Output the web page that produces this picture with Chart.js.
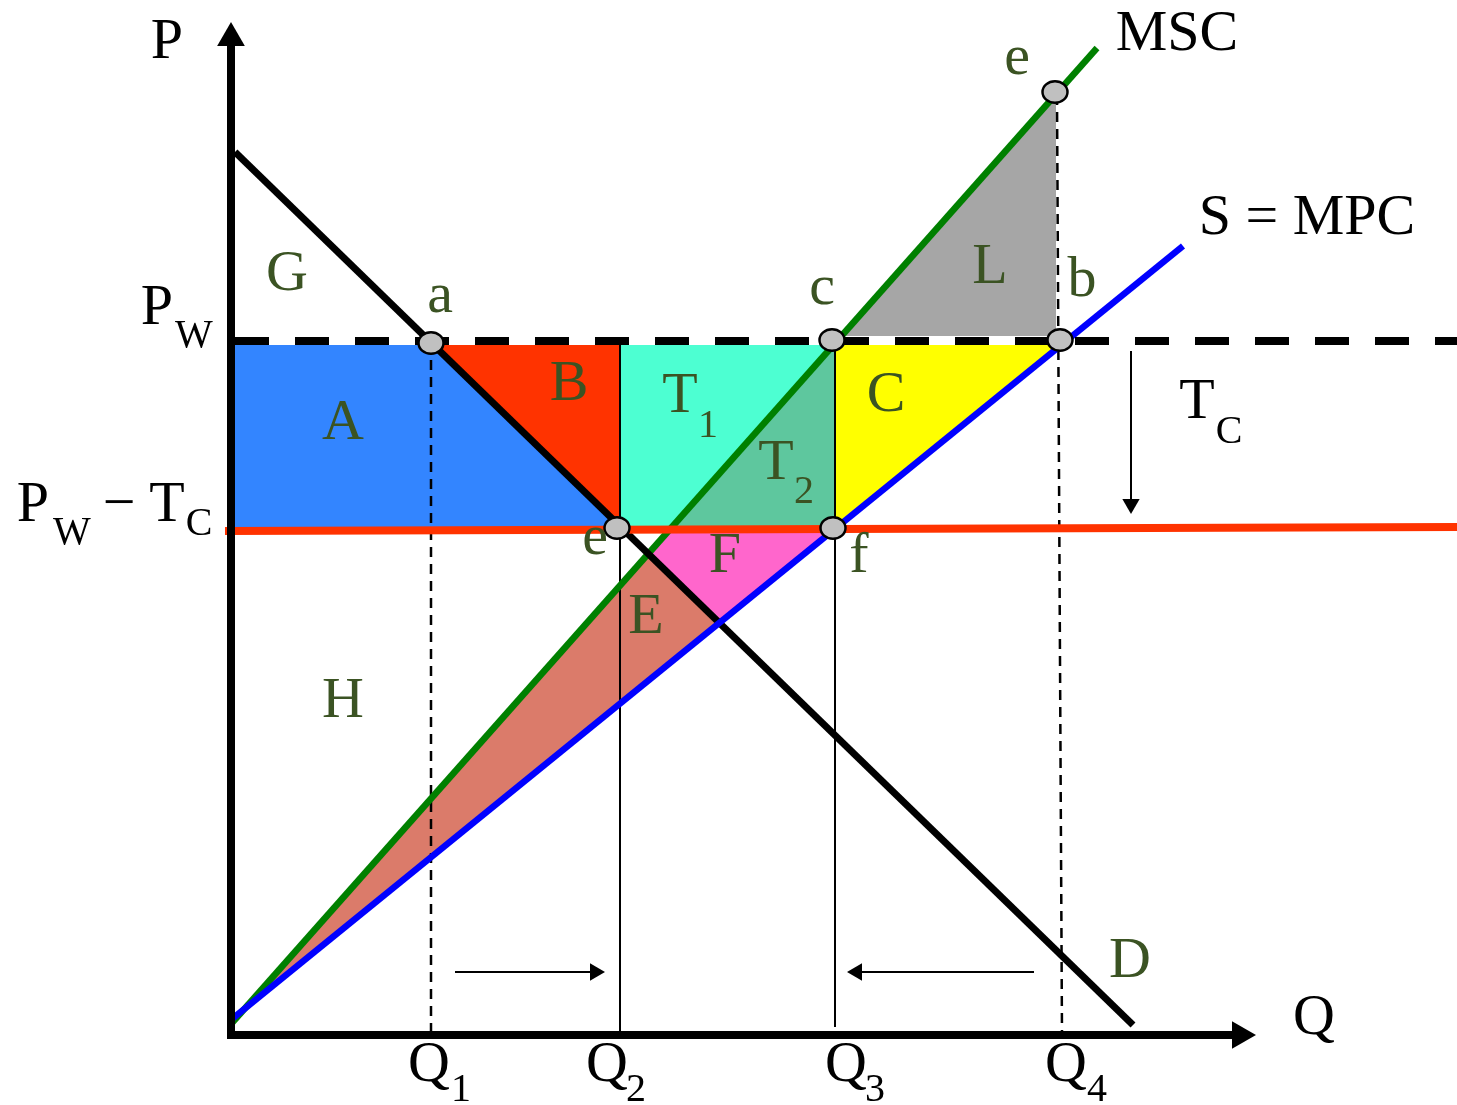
<!DOCTYPE html>
<html><head><meta charset="utf-8">
<script src="https://cdn.jsdelivr.net/npm/chart.js@4.4.1/dist/chart.umd.min.js"></script>
<style>
html,body{margin:0;padding:0;background:#fff;overflow:hidden;}
#wrap{position:relative;width:1457px;height:1105px;}
#wrap canvas{position:absolute;left:0;top:0;}
.lbl{position:absolute;font-family:"Liberation Serif","Times New Roman",serif;line-height:1;white-space:nowrap;transform:translateX(-50%);}
</style></head>
<body><div id="wrap"><canvas id="c" width="1457" height="1105"></canvas></div>
<script>
// ---------- data (quantity Q on x, price P on y) ----------
const demandCurve = [{x:0.4,y:88.3},{x:90.2,y:1.0}];
const mscCurve    = [{x:0.0,y:1.1},{x:86.6,y:98.7}];
const mpcCurve    = [{x:0.1,y:1.6},{x:95.2,y:78.9}];
const pwLine      = [{x:0.4,y:69.4},{x:122.6,y:69.4}];
const pwTcLine    = [{x:-0.6,y:50.4},{x:122.6,y:50.8}];
const q1Guide = [{x:20.0,y:69.2},{x:20.0,y:0.3}];
const q2Guide = [{x:38.9,y:69.0},{x:38.9,y:0.0}];
const q3Guide = [{x:60.4,y:69.0},{x:60.4,y:0.8}];
const q4Guide = [{x:82.6,y:94.0},{x:83.1,y:0.0}];
const yAxisLine = [{x:0.0,y:-0.4},{x:0.0,y:99.0}];
const xAxisLine = [{x:-0.4,y:0.0},{x:100.5,y:0.0}];
const arrowRight = [{x:22.4,y:6.3},{x:36.0,y:6.3}];
const arrowLeft  = [{x:80.3,y:6.3},{x:63.0,y:6.3}];
const arrowTc    = [{x:90.0,y:68.4},{x:90.0,y:53.5}];
const arrowHeads = [{x:0.0,y:99.7},{x:100.9,y:0.0},{x:36.4,y:6.3},{x:62.6,y:6.3},{x:90.0,y:53.1}];
const arrowHeadAngles = [0,90,90,270,180];
const markerPoints = [{x:20.0,y:69.2},{x:60.1,y:69.5},{x:82.9,y:69.5},{x:82.4,y:94.3},{x:38.6,y:50.7},{x:60.2,y:50.7}];
// shaded areas
const regionA = [{x:0.4,y:69.0},{x:20.3,y:69.0},{x:39.3,y:50.5}];  const regionABase = 50.5;
const regionB = [{x:20.3,y:69.0},{x:38.8,y:51.0}];                   const regionBBase = 69.0;
const regionT1 = [{x:38.9,y:69.0},{x:38.9,y:50.5},{x:43.8,y:50.5},{x:60.2,y:69.0}]; const regionT1Base = 69.0;
const regionT2 = [{x:43.8,y:50.5},{x:60.3,y:69.0},{x:60.3,y:50.5}];  const regionT2Base = 50.5;
const regionC = [{x:60.4,y:50.5},{x:83.0,y:69.0}];                   const regionCBase = 69.0;
const regionL = [{x:61.0,y:69.9},{x:82.5,y:94.2}];                   const regionLBase = 69.9;
const regionFUpper = [{x:41.7,y:48.1},{x:48.8,y:41.2},{x:60.3,y:50.5}];
const regionFLower = [{x:41.7,y:48.1},{x:43.8,y:50.5},{x:60.3,y:50.5}];
const regionEUpper = [{x:0.0,y:1.3},{x:41.7,y:48.1},{x:48.8,y:41.2}];
const regionELower = [{x:0.0,y:1.3},{x:48.8,y:41.2}];

// ---------- styles ----------
const GREEN_TXT = '#3B5323';
const labelLayout = [
  {t:'P',x:167,y:59,s:58,c:'#000'},
  {t:'Q',x:1314,y:1035,s:58,c:'#000'},
  {t:'P',x:157,y:325,s:58,c:'#000'},{t:'W',x:194,y:347,s:40,c:'#000'},
  {t:'P',x:33,y:522,s:58,c:'#000'},{t:'W',x:72,y:544,s:40,c:'#000'},
  {t:'\u2212',x:119,y:522,s:58,c:'#000'},
  {t:'T',x:167,y:522,s:58,c:'#000'},{t:'C',x:199,y:535,s:40,c:'#000'},
  {t:'T',x:1197,y:419,s:58,c:'#000'},{t:'C',x:1229,y:443,s:40,c:'#000'},
  {t:'MSC',x:1177,y:51,s:58,c:'#000'},
  {t:'S = MPC',x:1307,y:235,s:58,c:'#000'},
  {t:'Q',x:429,y:1082,s:58,c:'#000'},{t:'1',x:461,y:1101,s:40,c:'#000'},
  {t:'Q',x:607,y:1082,s:58,c:'#000'},{t:'2',x:636,y:1101,s:40,c:'#000'},
  {t:'Q',x:846,y:1082,s:58,c:'#000'},{t:'3',x:875,y:1101,s:40,c:'#000'},
  {t:'Q',x:1066,y:1082,s:58,c:'#000'},{t:'4',x:1097,y:1101,s:40,c:'#000'},
  {t:'G',x:287,y:291,s:58,c:GREEN_TXT},
  {t:'a',x:440,y:313,s:58,c:GREEN_TXT},
  {t:'A',x:343,y:440,s:58,c:GREEN_TXT},
  {t:'B',x:569,y:401,s:58,c:GREEN_TXT},
  {t:'T',x:680,y:413,s:58,c:GREEN_TXT},{t:'1',x:708,y:437,s:40,c:GREEN_TXT},
  {t:'c',x:822,y:305,s:58,c:GREEN_TXT},
  {t:'L',x:990,y:284,s:58,c:GREEN_TXT},
  {t:'b',x:1082,y:297,s:58,c:GREEN_TXT},
  {t:'e',x:1017,y:75,s:58,c:GREEN_TXT},
  {t:'C',x:886,y:412,s:58,c:GREEN_TXT},
  {t:'T',x:776,y:480,s:58,c:GREEN_TXT},{t:'2',x:804,y:503,s:40,c:GREEN_TXT},
  {t:'e',x:595,y:555,s:58,c:GREEN_TXT},
  {t:'F',x:725,y:573,s:58,c:GREEN_TXT},
  {t:'f',x:859,y:573,s:58,c:GREEN_TXT},
  {t:'E',x:646,y:634,s:58,c:GREEN_TXT},
  {t:'H',x:343,y:718,s:58,c:GREEN_TXT},
  {t:'D',x:1130,y:978,s:58,c:GREEN_TXT}
];

// ellipse marker image
const ellipse = document.createElement('canvas');
ellipse.width = 30; ellipse.height = 26;
const ec = ellipse.getContext('2d');
ec.beginPath(); ec.ellipse(15,13,12.5,10.8,0,0,Math.PI*2);
ec.fillStyle = '#C0C0C0'; ec.fill(); ec.lineWidth = 2.5; ec.strokeStyle = '#000'; ec.stroke();

const datasets = [];
function addLine(data, color, width, dash, order) {
  datasets.push({data, borderColor: color, borderWidth: width, borderDash: dash || [], pointRadius: 0,
    fill: false, order, tension: 0, showLine: true, borderCapStyle: 'butt'});
  return datasets.length - 1;
}
function addRegion(data, color, fill) {
  datasets.push({data, borderWidth: 0, borderColor: 'rgba(0,0,0,0)', backgroundColor: color, pointRadius: 0,
    fill, order: 20, tension: 0, showLine: true});
  return datasets.length - 1;
}
// regions
addRegion(regionA, '#3385FF', {value: regionABase});
addRegion(regionB, '#FF3300', {value: regionBBase});
addRegion(regionT1, '#4DFFD2', {value: regionT1Base});
addRegion(regionT2, '#5EC79E', {value: regionT2Base});
addRegion(regionC, '#FFFF00', {value: regionCBase});
addRegion(regionL, '#A6A6A6', {value: regionLBase});
const fLow = addRegion(regionFLower, 'rgba(0,0,0,0)', false);
addRegion(regionFUpper, '#FF66CC', fLow);
const eLow = addRegion(regionELower, 'rgba(0,0,0,0)', false);
addRegion(regionEUpper, '#DB7B6A', eLow);
// guides
addLine(q1Guide, '#000', 2.5, [10,7], 9);
addLine(q2Guide, '#000', 2, [], 9);
addLine(q3Guide, '#000', 2, [], 9);
addLine(q4Guide, '#000', 2.5, [10,7], 9);
// curves
addLine(mscCurve, '#008000', 6.5, [], 8);
addLine(demandCurve, '#000', 7, [], 7);
addLine(mpcCurve, '#0000FF', 6.5, [], 6);
addLine(pwTcLine, '#FF3300', 8, [], 5);
addLine(pwLine, '#000', 8, [34,26], 4);
// axes and arrows
addLine(yAxisLine, '#000', 8, [], 3);
addLine(xAxisLine, '#000', 8, [], 3);
addLine(arrowRight, '#000', 2, [], 3);
addLine(arrowLeft, '#000', 2, [], 3);
addLine(arrowTc, '#000', 2, [], 3);
datasets.push({data: arrowHeads, showLine: false, pointStyle: 'triangle', pointRotation: arrowHeadAngles,
  pointRadius: [16,16,10,10,10], pointBackgroundColor: '#000', pointBorderWidth: 0, order: 2});
datasets.push({data: markerPoints, showLine: false, pointStyle: ellipse, pointRadius: 13, order: 1});

const chart = new Chart(document.getElementById('c'), {
  type: 'line',
  data: {datasets},
  options: {
    responsive: false, animation: false, events: [],
    layout: {padding: 0, autoPadding: false},
    scales: {
      x: {type: 'linear', min: -23.1, max: 122.6, display: false},
      y: {type: 'linear', min: -7.0, max: 103.5, display: false}
    },
    plugins: {legend: {display: false}, tooltip: {enabled: false}, filler: {drawTime: 'beforeDatasetsDraw', propagate: false}}
  }
});

const wrap = document.getElementById('wrap');
labelLayout.forEach(l => {
  const d = document.createElement('div');
  d.className = 'lbl';
  d.textContent = l.t;
  d.style.fontSize = l.s + 'px';
  d.style.color = l.c;
  d.style.left = l.x + 'px';
  d.style.top = (l.y - 0.8375 * l.s) + 'px';
  wrap.appendChild(d);
});
</script>
</body></html>
